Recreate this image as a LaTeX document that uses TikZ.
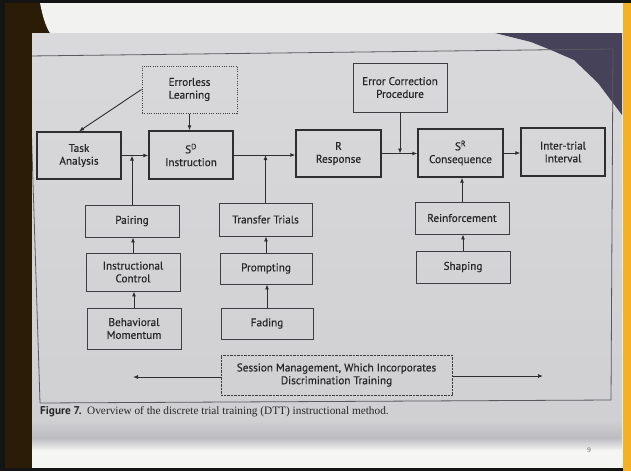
\documentclass[tikz,border=0pt]{standalone}
\usepackage{fontspec}
\setmainfont{Liberation Serif}
\newfontfamily\boxfont[FakeBold=0.4]{PT Sans}
\newfontfamily\capbold{PT Sans Bold}
\usetikzlibrary{arrows.meta}
\definecolor{outer}{HTML}{141414}
\definecolor{brownstrip}{HTML}{2A1C07}
\definecolor{topwhite}{HTML}{F2F2F0}
\definecolor{yellowstrip}{HTML}{F5B122}
\definecolor{paperA}{HTML}{D9D8DB}
\definecolor{paperB}{HTML}{D0CFD2}
\definecolor{paperC}{HTML}{BDBCC0}
\definecolor{shadowc}{HTML}{46425A}
\definecolor{framec}{HTML}{5A5A5E}
\definecolor{boxline}{HTML}{2E2E30}
\definecolor{subline}{HTML}{3E3E42}
\definecolor{txt}{HTML}{262628}
\begin{document}
\begin{tikzpicture}[x=1pt,y=-1pt,
  box/.style={draw=boxline, line width=1.4pt, inner sep=0pt, align=center,
    font=\boxfont\fontsize{11.2}{12.8}\selectfont, text=txt},
  subbox/.style={box, draw=subline, line width=0.9pt},
  dotbox/.style={box, draw=subline, line width=1pt, dash pattern=on 0.9pt off 1.4pt},
  arr/.style={draw=boxline, line width=0.9pt, -{Latex[length=5pt,width=4pt]}},
  lin/.style={draw=boxline, line width=0.9pt}]
\useasboundingbox (0,0) rectangle (631,471);
% slide background
\fill[outer] (0,0) rectangle (631,471);
\fill[brownstrip] (5,3) rectangle (32,468);
\fill[brownstrip] (5,3) rectangle (50,33);
\fill[topwhite] (40,3) .. controls (43,18) and (46,27) .. (50,33) -- (622,33) -- (622,3) -- cycle;
\fill[topwhite] (622,3) rectangle (623,468);
\fill[yellowstrip] (623,3) rectangle (631,471);
% photo
\shade[top color=paperA, bottom color=paperB] (32,33) rectangle (622,420);
\shade[top color=paperB, bottom color=paperC] (32,420) rectangle (622,438);
\shade[top color=paperC, bottom color=topwhite] (32,438) rectangle (622,450);
\fill[topwhite!80!white] (32,450) rectangle (622,468);
\fill[shadowc] (495,33) -- (531,42) -- (551,50) -- (574,60) -- (598,83) -- (622,115) -- (622,33) -- cycle;
\begin{scope}
\clip (32,33) rectangle (622,450);
\draw[framec, line width=0.8pt] (29,56) -- (613,49) -- (611,400) -- (40,403) -- cycle;
\end{scope}
% main row
\node[box, minimum width=84pt, minimum height=47pt] (task) at (79,155.5) {Task\\Analysis};
\node[box, minimum width=84pt, minimum height=48pt] (sd) at (191,155) {S\textsuperscript{D}\\Instruction};
\node[box, minimum width=85pt, minimum height=47pt] (resp) at (338.5,153.5) {R\\Response};
\node[box, minimum width=85pt, minimum height=48pt] (cons) at (460.5,153) {S\textsuperscript{R}\\Consequence};
\node[box, minimum width=84pt, minimum height=48pt] (iti) at (563,152) {Inter-trial\\Interval};
% top boxes
\node[dotbox, minimum width=95pt, minimum height=47pt] (errless) at (189.5,89.5) {Errorless\\Learning};
\node[subbox, minimum width=94pt, minimum height=49pt] (errcorr) at (400,87.5) {Error Correction\\Procedure};
% lower columns
\node[subbox, minimum width=94pt, minimum height=32pt] (pairing) at (132,221) {Pairing};
\node[subbox, minimum width=94pt, minimum height=38pt] (instr) at (133,272) {Instructional\\Control};
\node[subbox, minimum width=94pt, minimum height=41pt] (behav) at (134,328.5) {Behavioral\\Momentum};
\node[subbox, minimum width=93pt, minimum height=33pt] (transfer) at (265.5,219.5) {Transfer Trials};
\node[subbox, minimum width=92pt, minimum height=31pt] (prompt) at (266,268.5) {Prompting};
\node[subbox, minimum width=92pt, minimum height=31pt] (fading) at (267,323.5) {Fading};
\node[subbox, minimum width=94pt, minimum height=32pt] (reinf) at (462,218) {Reinforcement};
\node[subbox, minimum width=94pt, minimum height=32pt] (shaping) at (463,267) {Shaping};
\node[dotbox, line width=0.8pt, dash pattern=on 0.6pt off 0.8pt, minimum width=231pt, minimum height=40pt] (session) at (336.5,375) {Session Management, Which Incorporates\\Discrimination Training};
\coordinate (sessL) at (133,377);
\coordinate (sessR) at (543,376);
% connectors
\draw[arr] (errless.west) -- (task.north);
\draw[arr] (errless.south) -- (errless.south |- sd.north);
\draw[arr] (task.east) -- (task.east -| sd.west);
\draw[arr] (pairing.north) -- (pairing.north |- task.east);
\draw[arr] (sd.east) -- (sd.east -| resp.west);
\draw[arr] (transfer.north) -- (transfer.north |- sd.east);
\draw[arr] (resp.east) -- (resp.east -| cons.west);
\draw[arr] (errcorr.south) -- (errcorr.south |- resp.east);
\draw[arr] (cons.east) -- (cons.east -| iti.west);
\draw[arr] (reinf.north) -- (reinf.north |- cons.south);
\draw[arr] (instr.north) -- (instr.north |- pairing.south);
\draw[arr] (behav.north) -- (behav.north |- instr.south);
\draw[arr] (prompt.north) -- (prompt.north |- transfer.south);
\draw[arr] (fading.north) -- (fading.north |- prompt.south);
\draw[arr] (shaping.north) -- (shaping.north |- reinf.south);
\draw[arr] (session.west |- sessL) -- (sessL);
\draw[arr] (session.east |- sessR) -- (sessR);
% caption
\node[anchor=west, inner sep=0pt, text=txt, font=\fontsize{11.3}{13}\selectfont] (cap) at (40,412)
  {{\capbold Figure 7.}\ \ Overview of the discrete trial training (DTT) instructional method.};
\node[inner sep=0pt, text=framec, font=\fontsize{7}{8}\selectfont] (pnum) at (589,450) {9};
\end{tikzpicture}
\end{document}
